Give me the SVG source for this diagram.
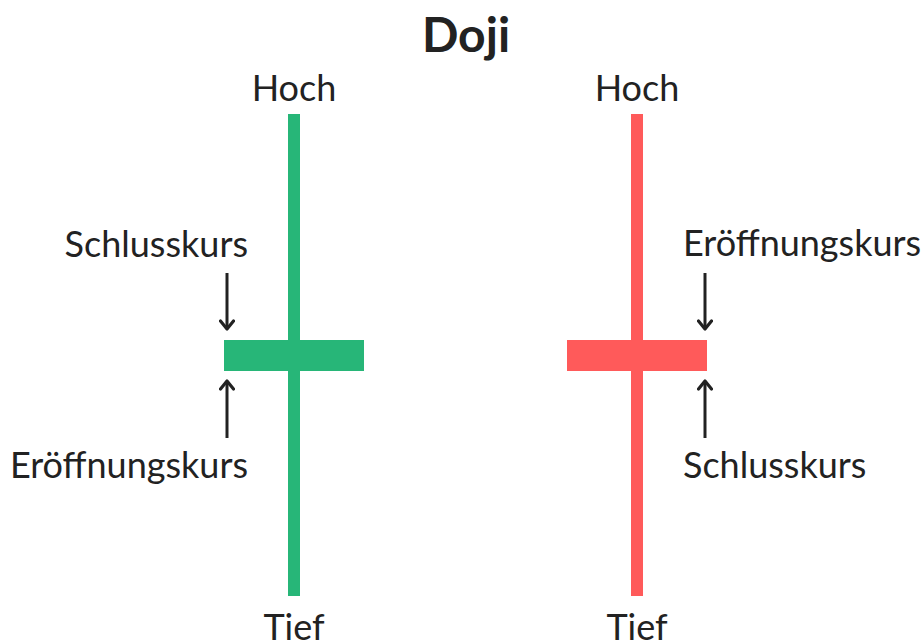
<svg xmlns="http://www.w3.org/2000/svg" width="922" height="641" viewBox="0 0 922 641">
<style>
text{font-family:Lato,"Open Sans",sans-serif;fill:#222;font-size:36px}
.t{font-weight:bold;font-size:48px}
.g{fill:#27b678}
.r{fill:#ff5a5a}
.a{stroke:#222;stroke-width:3;fill:none}
</style>
<defs>
<marker id="ah" viewBox="0 0 16 16" refX="12" refY="8" markerWidth="16" markerHeight="16" markerUnits="userSpaceOnUse" orient="auto">
<path d="M4,1.5 L12,8 L4,14.5" fill="none" stroke="#222" stroke-width="3.2" stroke-linecap="round" stroke-linejoin="round"/>
</marker>
</defs>
<rect width="922" height="641" fill="#fff"/>
<text class="t" x="466" y="52" text-anchor="middle">Doji</text>
<g id="green-candle">
<rect class="g" x="288" y="114" width="12" height="482"/>
<rect class="g" x="224" y="340" width="140" height="31"/>
<text x="294" y="101" text-anchor="middle">Hoch</text>
<text x="294" y="640" text-anchor="middle">Tief</text>
<text x="248" y="257" text-anchor="end">Schlusskurs</text>
<text x="248" y="478" text-anchor="end">Eröffnungskurs</text>
</g>
<g id="red-candle">
<rect class="r" x="631" y="114" width="12" height="482"/>
<rect class="r" x="567" y="340" width="140" height="31"/>
<text x="637" y="101" text-anchor="middle">Hoch</text>
<text x="637" y="640" text-anchor="middle">Tief</text>
<text x="683" y="256" text-anchor="start">Eröffnungskurs</text>
<text x="683" y="478" text-anchor="start">Schlusskurs</text>
</g>
<g id="connectors">
<line class="a" x1="227" y1="273" x2="227" y2="329" marker-end="url(#ah)"/>
<line class="a" x1="227" y1="438" x2="227" y2="381" marker-end="url(#ah)"/>
<line class="a" x1="705" y1="273" x2="705" y2="329" marker-end="url(#ah)"/>
<line class="a" x1="705" y1="438" x2="705" y2="381" marker-end="url(#ah)"/>
</g>
</svg>
